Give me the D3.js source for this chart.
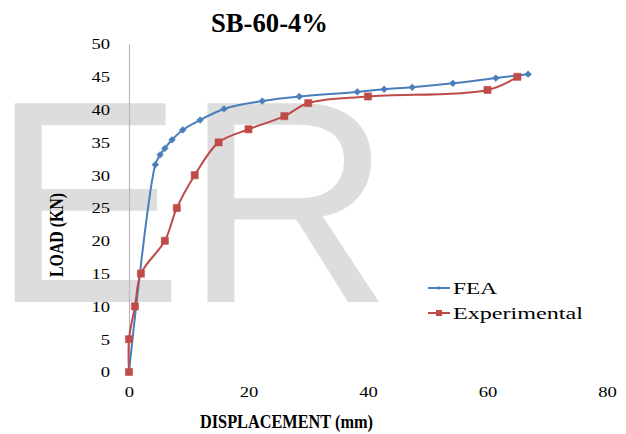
<!DOCTYPE html>
<html>
<head>
<meta charset="utf-8">
<script src="https://cdn.jsdelivr.net/npm/d3@7"></script>
<style>
  html, body { margin: 0; padding: 0; background: #fff; }
  svg { display: block; }
  text { font-family: "Liberation Serif", "Times New Roman", serif; fill: #000; }
</style>
</head>
<body>
<svg id="chart" width="626" height="434"></svg>
<script>
// Load–displacement data (displacement in mm, load in kN)
const feaDisp = [0, 4.4, 5.2, 6.0, 7.2, 9.0, 11.9, 15.9, 22.3, 28.5, 38.2, 42.7, 47.4, 54.2, 61.4, 66.8];
const feaLoad = [0, 31.6, 33.1, 34.1, 35.4, 36.9, 38.4, 40.1, 41.3, 42.0, 42.7, 43.1, 43.4, 44.0, 44.8, 45.4];
const expDisp = [0, 0, 1, 2, 6, 8, 11, 15, 20, 26, 30, 40, 60, 65];
const expLoad = [0, 5, 10, 15, 20, 25, 30, 35, 37, 39, 41, 42, 43, 45];
const seriesNames = ["FEA", "Experimental"];
const xTicks = [0, 20, 40, 60, 80];
const yTicks = [0, 5, 10, 15, 20, 25, 30, 35, 40, 45, 50];
const chartTitle = "SB-60-4%";
const xTitle = "DISPLACEMENT (mm)";
const yTitle = "LOAD (KN)";

const svg = d3.select("#chart");

// Background watermark letters
svg.append("text")
  .attr("x", -9).attr("y", 302)
  .style("font-family", "'Liberation Sans', Arial, sans-serif")
  .style("font-size", "289px")
  .style("fill", "#dddddd")
  .text("ER");

const x = d3.scaleLinear().domain([0, 80]).range([129, 607]);
const y = d3.scaleLinear().domain([0, 50]).range([372, 44]);

// Y axis with grey spine
const yAxis = svg.append("g")
  .attr("transform", `translate(${x(0)},0)`)
  .call(d3.axisLeft(y).tickValues(yTicks).tickSize(0).tickSizeOuter(0).tickPadding(19));
yAxis.select(".domain").attr("stroke", "#b9b9b9").attr("stroke-width", 1.2);
yAxis.selectAll(".tick text")
  .style("font-size", "15px")
  .attr("textLength", d => String(d).length * 9.3)
  .attr("lengthAdjust", "spacingAndGlyphs");

// X axis labels only
const xAxis = svg.append("g")
  .attr("transform", `translate(0,${y(0)})`)
  .call(d3.axisBottom(x).tickValues(xTicks).tickSize(0).tickSizeOuter(0).tickPadding(14));
xAxis.select(".domain").remove();
xAxis.selectAll(".tick text")
  .style("font-size", "15px")
  .attr("textLength", d => String(d).length * 9.3)
  .attr("lengthAdjust", "spacingAndGlyphs");

// Titles
svg.append("text")
  .attr("x", 269.5).attr("y", 32)
  .attr("text-anchor", "middle")
  .style("font-size", "28px").style("font-weight", "bold")
  .attr("textLength", 117).attr("lengthAdjust", "spacingAndGlyphs")
  .text(chartTitle);

svg.append("text")
  .attr("x", 286.5).attr("y", 427.5)
  .attr("text-anchor", "middle")
  .style("font-size", "18px").style("font-weight", "bold")
  .attr("textLength", 173).attr("lengthAdjust", "spacingAndGlyphs")
  .text(xTitle);

svg.append("text")
  .attr("transform", "translate(63,235) rotate(-90)")
  .attr("text-anchor", "middle")
  .style("font-size", "18px").style("font-weight", "bold")
  .attr("textLength", 84).attr("lengthAdjust", "spacingAndGlyphs")
  .text(yTitle);

// Series
const colors = ["#4a7ebb", "#be4b48"];
const diamond = r => `M0,${-r}L${r},0L0,${r}L${-r},0Z`;
const square = r => `M${-r},${-r}H${r}V${r}H${-r}Z`;
const markers = [diamond, square];
const markerR = [3.4, 3.6];

const series = [
  feaDisp.map((d, i) => [d, feaLoad[i]]),
  expDisp.map((d, i) => [d, expLoad[i]])
];

// centripetal smoothing: rounded joints without loops at uneven spacing
const line = d3.line()
  .x(d => x(d[0])).y(d => y(d[1]))
  .curve(d3.curveCatmullRom.alpha(0.5));

series.forEach((pts, k) => {
  const g = svg.append("g");
  g.append("path")
    .attr("d", line(pts))
    .attr("fill", "none")
    .attr("stroke", colors[k])
    .attr("stroke-width", 2);
  g.selectAll("path.m")
    .data(pts)
    .join("path")
    .attr("class", "m")
    .attr("transform", d => `translate(${x(d[0])},${y(d[1])})`)
    .attr("d", markers[k](markerR[k]))
    .attr("fill", colors[k])
    .attr("stroke", colors[k])
    .attr("stroke-width", 0.5);
});

// Legend
const legendY = [288, 313];
const legendLen = [44, 130];
seriesNames.forEach((name, k) => {
  const g = svg.append("g").attr("transform", `translate(0,${legendY[k]})`);
  g.append("line")
    .attr("x1", 428).attr("x2", 450)
    .attr("stroke", colors[k]).attr("stroke-width", 2);
  g.append("path")
    .attr("transform", "translate(439,0)")
    .attr("d", markers[k](k === 0 ? 2 : 3))
    .attr("fill", colors[k]);
  g.append("text")
    .attr("x", 453).attr("y", 5.5)
    .style("font-size", "17px")
    .attr("textLength", legendLen[k]).attr("lengthAdjust", "spacingAndGlyphs")
    .text(name);
});
</script>
</body>
</html>
